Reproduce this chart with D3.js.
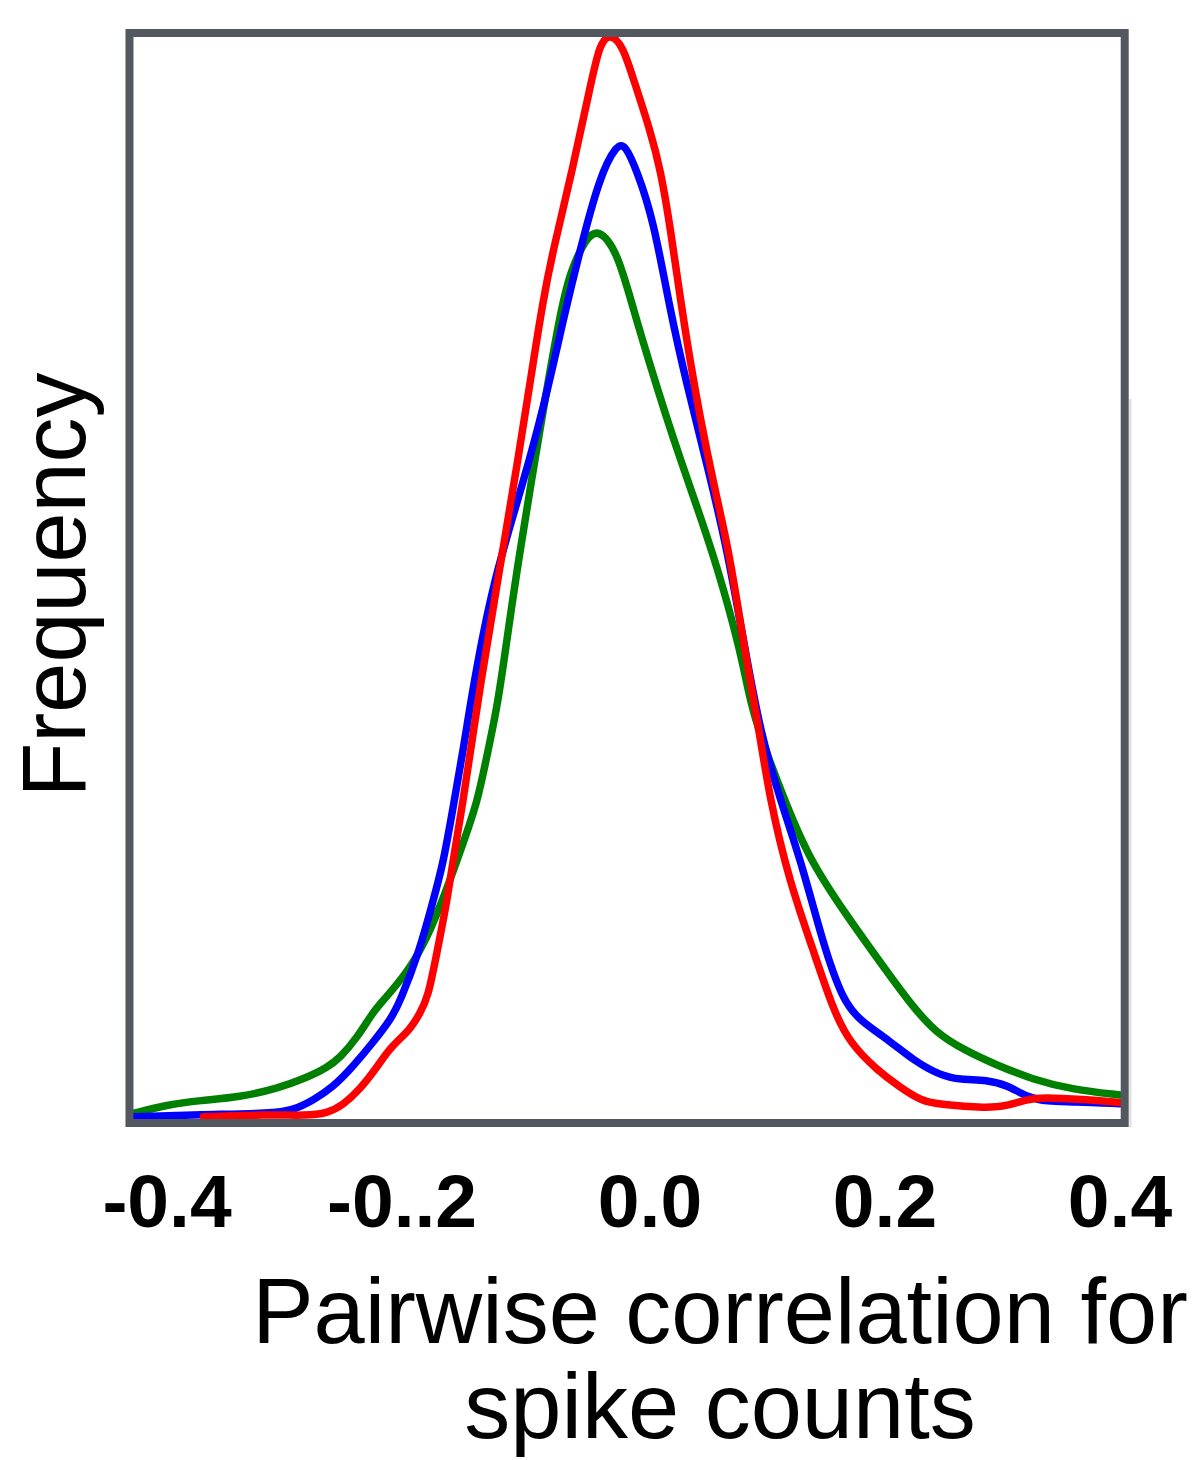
<!DOCTYPE html>
<html>
<head>
<script src="https://d3js.org/d3.v7.min.js"></script>
<style>
  body { margin: 0; background: #fff; }
  text { font-family: "Liberation Sans", Arial, Helvetica, sans-serif; fill: #000; }
</style>
</head>
<body>
<svg width="1195" height="1460"></svg>
<script>

// x values (pairwise correlation) and relative frequency
const redX = [-0.380, -0.326, -0.292, -0.275, -0.261, -0.247, -0.232, -0.221, -0.204, -0.196, -0.189, -0.181, -0.173, -0.168, -0.159, -0.151, -0.145, -0.130, -0.111, -0.100, -0.091, -0.083, -0.066, -0.051, -0.043, -0.034, -0.023, -0.014, 0.000, 0.009, 0.017, 0.026, 0.034, 0.043, 0.054, 0.066, 0.074, 0.082, 0.091, 0.102, 0.119, 0.139, 0.156, 0.170, 0.193, 0.213, 0.230, 0.247, 0.287, 0.304, 0.321, 0.334, 0.369, 0.400];
const redY = [0.003, 0.005, 0.004, 0.006, 0.014, 0.028, 0.049, 0.067, 0.083, 0.098, 0.112, 0.156, 0.200, 0.236, 0.294, 0.352, 0.396, 0.494, 0.616, 0.693, 0.754, 0.798, 0.874, 0.950, 0.990, 1.000, 0.988, 0.957, 0.911, 0.874, 0.823, 0.754, 0.699, 0.644, 0.586, 0.529, 0.478, 0.423, 0.371, 0.294, 0.218, 0.156, 0.101, 0.071, 0.046, 0.030, 0.018, 0.014, 0.011, 0.013, 0.019, 0.021, 0.019, 0.016];

const blueX = [-0.440, -0.383, -0.321, -0.304, -0.287, -0.270, -0.253, -0.236, -0.221, -0.213, -0.196, -0.185, -0.176, -0.168, -0.159, -0.151, -0.134, -0.108, -0.091, -0.072, -0.060, -0.043, -0.028, -0.021, -0.011, 0.003, 0.017, 0.031, 0.049, 0.066, 0.081, 0.094, 0.111, 0.130, 0.147, 0.164, 0.179, 0.204, 0.224, 0.247, 0.264, 0.287, 0.304, 0.321, 0.338, 0.360, 0.400];
const blueY = [0.003, 0.005, 0.006, 0.009, 0.018, 0.030, 0.049, 0.071, 0.092, 0.108, 0.156, 0.200, 0.236, 0.285, 0.340, 0.396, 0.494, 0.586, 0.653, 0.745, 0.798, 0.868, 0.898, 0.897, 0.873, 0.828, 0.745, 0.678, 0.601, 0.524, 0.432, 0.356, 0.294, 0.233, 0.163, 0.110, 0.091, 0.073, 0.055, 0.041, 0.037, 0.037, 0.032, 0.021, 0.017, 0.017, 0.015];

const greenX = [-0.440, -0.411, -0.383, -0.349, -0.317, -0.292, -0.275, -0.264, -0.249, -0.236, -0.227, -0.207, -0.190, -0.173, -0.159, -0.147, -0.139, -0.130, -0.123, -0.113, -0.091, -0.077, -0.068, -0.054, -0.044, -0.028, -0.014, 0.003, 0.020, 0.040, 0.057, 0.077, 0.085, 0.095, 0.111, 0.134, 0.168, 0.202, 0.221, 0.243, 0.270, 0.292, 0.326, 0.360, 0.400];
const greenY = [0.006, 0.014, 0.018, 0.021, 0.029, 0.039, 0.048, 0.057, 0.076, 0.099, 0.110, 0.135, 0.166, 0.212, 0.255, 0.292, 0.334, 0.380, 0.432, 0.509, 0.653, 0.739, 0.781, 0.812, 0.820, 0.800, 0.745, 0.684, 0.626, 0.564, 0.510, 0.432, 0.386, 0.350, 0.304, 0.242, 0.187, 0.136, 0.108, 0.080, 0.063, 0.052, 0.037, 0.028, 0.023];

const tickValues = [-0.4, -0.2, 0.0, 0.2, 0.4];
const tickLabels = ["-0.4", "-0..2", "0.0", "0.2", "0.4"];

var svg = d3.select("svg");

var x = d3.scaleLinear().domain([-0.4, 0.4]).range([180, 1120]);
var y = d3.scaleLinear().domain([0, 1]).range([1120, 33]);
var xMin = -0.443, xMax = 0.404;

var line = d3.line()
    .x(function(d) { return x(d[0]); })
    .y(function(d) { return y(d[1]); })
    .curve(d3.curveBasis);

var series = [
  { color: "#008000", xs: greenX, ys: greenY },
  { color: "#0000ff", xs: blueX, ys: blueY },
  { color: "#ff0000", xs: redX, ys: redY }
];

// faint scanning edge right of the frame
svg.append("rect")
    .attr("x", x(xMax) + 4).attr("y", 399)
    .attr("width", 3).attr("height", y(0) + 7 - 399)
    .attr("fill", "#e4e4e4");

var plot = svg.append("g");

series.forEach(function(s) {
  plot.append("path")
      .datum(d3.zip(s.xs, s.ys))
      .attr("fill", "none")
      .attr("stroke", s.color)
      .attr("stroke-width", 7.5)
      .attr("stroke-linejoin", "round")
      .attr("stroke-linecap", "round")
      .attr("d", line);
});

// frame
svg.append("rect")
    .attr("x", x(xMin))
    .attr("y", y(1))
    .attr("width", x(xMax) - x(xMin))
    .attr("height", y(0) + 3 - y(1))
    .attr("fill", "none")
    .attr("stroke", "#53575f")
    .attr("stroke-width", 8);

svg.selectAll(".tick-label")
    .data(tickValues)
    .enter().append("text")
      .attr("class", "tick-label")
      .attr("x", function(d) { return x(d); })
      .attr("y", 1227)
      .attr("dx", function(d, i) { return tickLabels[i][0] === "-" ? -13 : 0; })
      .attr("text-anchor", "middle")
      .style("font-size", "75px")
      .style("font-weight", "bold")
      .text(function(d, i) { return tickLabels[i]; });

svg.append("text")
    .attr("transform", "translate(85," + 585 + ") rotate(-90)")
    .attr("text-anchor", "middle")
    .style("font-size", "90px")
    .text("Frequency");

svg.append("text")
    .attr("x", 720).attr("y", 1343)
    .attr("text-anchor", "middle")
    .style("font-size", "92px")
    .text("Pairwise correlation for");

svg.append("text")
    .attr("x", 720).attr("y", 1438)
    .attr("text-anchor", "middle")
    .style("font-size", "92px")
    .text("spike counts");

</script>
</body>
</html>
